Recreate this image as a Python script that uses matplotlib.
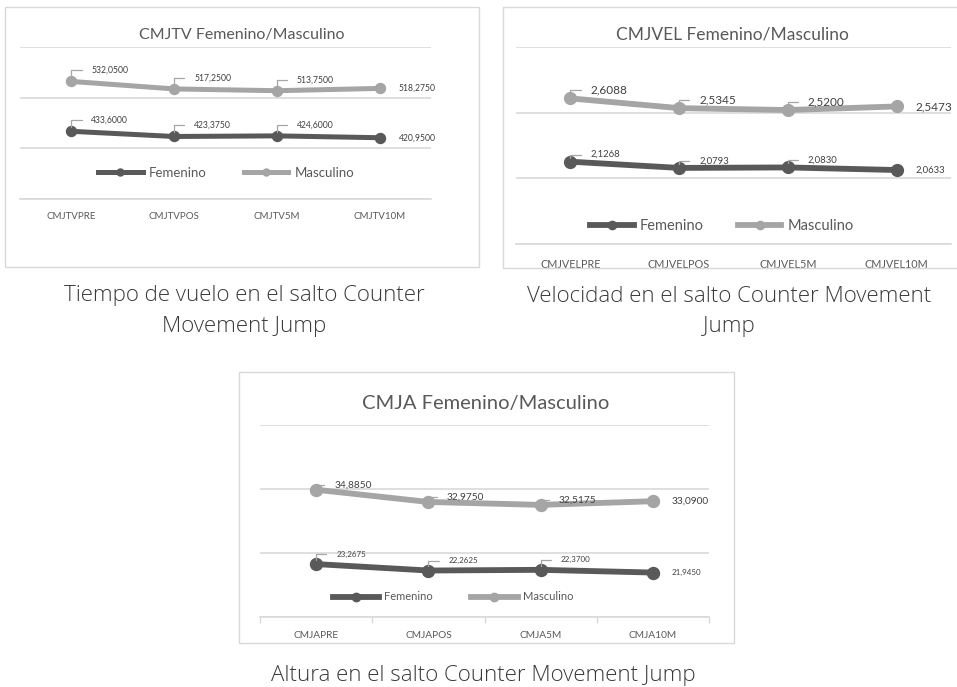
import numpy as np
import matplotlib; matplotlib.use('Agg')
import matplotlib.pyplot as plt
from matplotlib.patches import Rectangle
from matplotlib.lines import Line2D

W, H = 957, 687
plt.rcParams.update({'font.family': 'Lato'})

# ── data ────────────────────────────────────────────────────────────────
tv_cats = ['CMJTVPRE', 'CMJTVPOS', 'CMJTV5M', 'CMJTV10M']
tv_fem = [433.6000, 423.3750, 424.6000, 420.9500]
tv_masc = [532.0500, 517.2500, 513.7500, 518.2750]

vel_cats = ['CMJVELPRE', 'CMJVELPOS', 'CMJVEL5M', 'CMJVEL10M']
vel_fem = [2.1268, 2.0793, 2.0830, 2.0633]
vel_masc = [2.6088, 2.5345, 2.5200, 2.5473]

a_cats = ['CMJAPRE', 'CMJAPOS', 'CMJA5M', 'CMJA10M']
a_fem = [23.2675, 22.2625, 22.3700, 21.9450]
a_masc = [34.8850, 32.9750, 32.5175, 33.0900]

FEM_C, MASC_C = '#595959', '#a5a5a5'
GRID_C, TXT_C = '#d9d9d9', '#595959'

fig = plt.figure(figsize=(W/100, H/100), dpi=100)
fig.patch.set_facecolor('white')

def fx(x): return x / W
def fy(y): return 1 - y / H

def fmt(v, nd):
    return f'{v:.{nd}f}'.replace('.', ',')

def panel(border, area, title, title_xy, title_fs, cats, fem, masc, ylim, yticks,
          nd, lab_fs, off_m, off_f, lw, ms, cat_fs, cat_pad, leg_xy, leg_fs,
          leg_hl, leg_cs, minor_ticks=False):
    bx0, by0, bx1, by1 = border
    fig.add_artist(Rectangle((fx(bx0), fy(by1)), (bx1-bx0)/W, (by1-by0)/H,
                             transform=fig.transFigure, fill=False, ec=GRID_C, lw=1.0))
    x0, y0, x1, y1 = area
    ax = fig.add_axes([fx(x0), fy(y1), (x1-x0)/W, (y1-y0)/H])
    x = np.arange(len(cats))
    ax.plot(x, fem, color=FEM_C, lw=lw, marker='o', ms=ms, solid_capstyle='round', zorder=3)
    ax.plot(x, masc, color=MASC_C, lw=lw, marker='o', ms=ms, solid_capstyle='round', zorder=3)
    ax.set_xlim(-0.5, len(cats)-0.5)
    ax.set_ylim(*ylim)
    ax.set_yticks(yticks)
    ax.yaxis.grid(True, color=GRID_C, lw=1.2)
    ax.set_axisbelow(True)
    ax.tick_params(axis='y', length=0, labelleft=False)
    ax.set_xticks(x)
    ax.set_xticklabels(cats, fontsize=cat_fs, color=TXT_C)
    ax.tick_params(axis='x', length=0, pad=cat_pad)
    if minor_ticks:
        ax.set_xticks(np.arange(-0.5, len(cats), 1.0), minor=True)
        ax.tick_params(axis='x', which='minor', length=4, color=GRID_C, width=1)
    for s in ['top', 'right', 'left']:
        ax.spines[s].set_visible(False)
    ax.spines['bottom'].set_color(GRID_C)
    ax.spines['bottom'].set_linewidth(1.2)
    ax.patch.set_alpha(0)

    # data labels with leader lines (last point: label to the right)
    for vals, (dx, dy), fs in [(masc, off_m, lab_fs[0]), (fem, off_f, lab_fs[1])]:
        for i, v in enumerate(vals):
            if i == len(vals) - 1:
                ax.annotate(fmt(v, nd), (i, v), xytext=(19, 0), textcoords='offset pixels',
                            ha='left', va='center', fontsize=fs, color='#404040')
            else:
                ax.annotate(fmt(v, nd), (i, v), xytext=(dx, dy), textcoords='offset pixels',
                            ha='left', va='center', fontsize=fs, color='#404040',
                            arrowprops=dict(arrowstyle='-', color='#a6a6a6', lw=0.9,
                                            connectionstyle='angle,angleA=0,angleB=90,rad=0',
                                            relpos=(0, 0.5), shrinkA=5, shrinkB=3))

    fig.text(fx(title_xy[0]), fy(title_xy[1]), title, ha='center', va='center',
             fontsize=title_fs, color=TXT_C)
    handles = [Line2D([], [], color=FEM_C, lw=lw, marker='o', ms=ms*0.7),
               Line2D([], [], color=MASC_C, lw=lw, marker='o', ms=ms*0.7)]
    leg = ax.legend(handles, ['Femenino', 'Masculino'], ncol=2, loc='center',
                    bbox_to_anchor=(fx(leg_xy[0]), fy(leg_xy[1])), bbox_transform=fig.transFigure,
                    frameon=False, fontsize=leg_fs, handlelength=leg_hl, handletextpad=0.45,
                    columnspacing=leg_cs, borderpad=0, borderaxespad=0)
    for t in leg.get_texts():
        t.set_color(TXT_C)
    return ax

# ── panel 1: tiempo de vuelo ────────────────────────────────────────────
panel((5, 7, 479, 267), (20, 47, 431, 199), 'CMJTV Femenino/Masculino', (242, 35), 11.5,
      tv_cats, tv_fem, tv_masc, (300, 600), [300, 400, 500, 600], 4, (6.2, 6.2),
      (20, 11), (20, 11), 3.6, 7.2, 7, 9, (226, 173), 9.5, 3.4, 2.8)

# ── panel 2: velocidad ──────────────────────────────────────────────────
panel((503, 7, 962, 268), (516, 47, 951, 244), 'CMJVEL Femenino/Masculino', (732, 35), 12.5,
      vel_cats, vel_fem, vel_masc, (1.5, 3.0), [1.5, 2.0, 2.5, 3.0], 4, (8.5, 6.8),
      (20, 8), (20, 7), 4.2, 8.5, 7.8, 11, (722, 226), 10.5, 3.0, 2.3)

# ── panel 3: altura ─────────────────────────────────────────────────────
panel((239, 372, 734, 643), (260, 425, 709, 617), 'CMJA Femenino/Masculino', (486, 403), 14.5,
      a_cats, a_fem, a_masc, (15, 45), [15, 25, 35, 45], 4, (7.3, 5.8),
      (18, 5), (20, 10), 4.2, 8.6, 7.3, 10, (453, 597), 8, 4.2, 3.4, minor_ticks=True)

# ── captions ────────────────────────────────────────────────────────────
cap = dict(ha='center', va='center', fontsize=16, color='#3a3a3a', family='Open Sans',
           fontweight='light')
fig.text(fx(244), fy(296), 'Tiempo de vuelo en el salto Counter', **cap)
fig.text(fx(244), fy(326), 'Movement Jump', **cap)
fig.text(fx(729), fy(296), 'Velocidad en el salto Counter Movement', **cap)
fig.text(fx(729), fy(326), 'Jump', **cap)
fig.text(fx(483), fy(675), 'Altura en el salto Counter Movement Jump', **cap)

fig.savefig('out.png', dpi=100)
